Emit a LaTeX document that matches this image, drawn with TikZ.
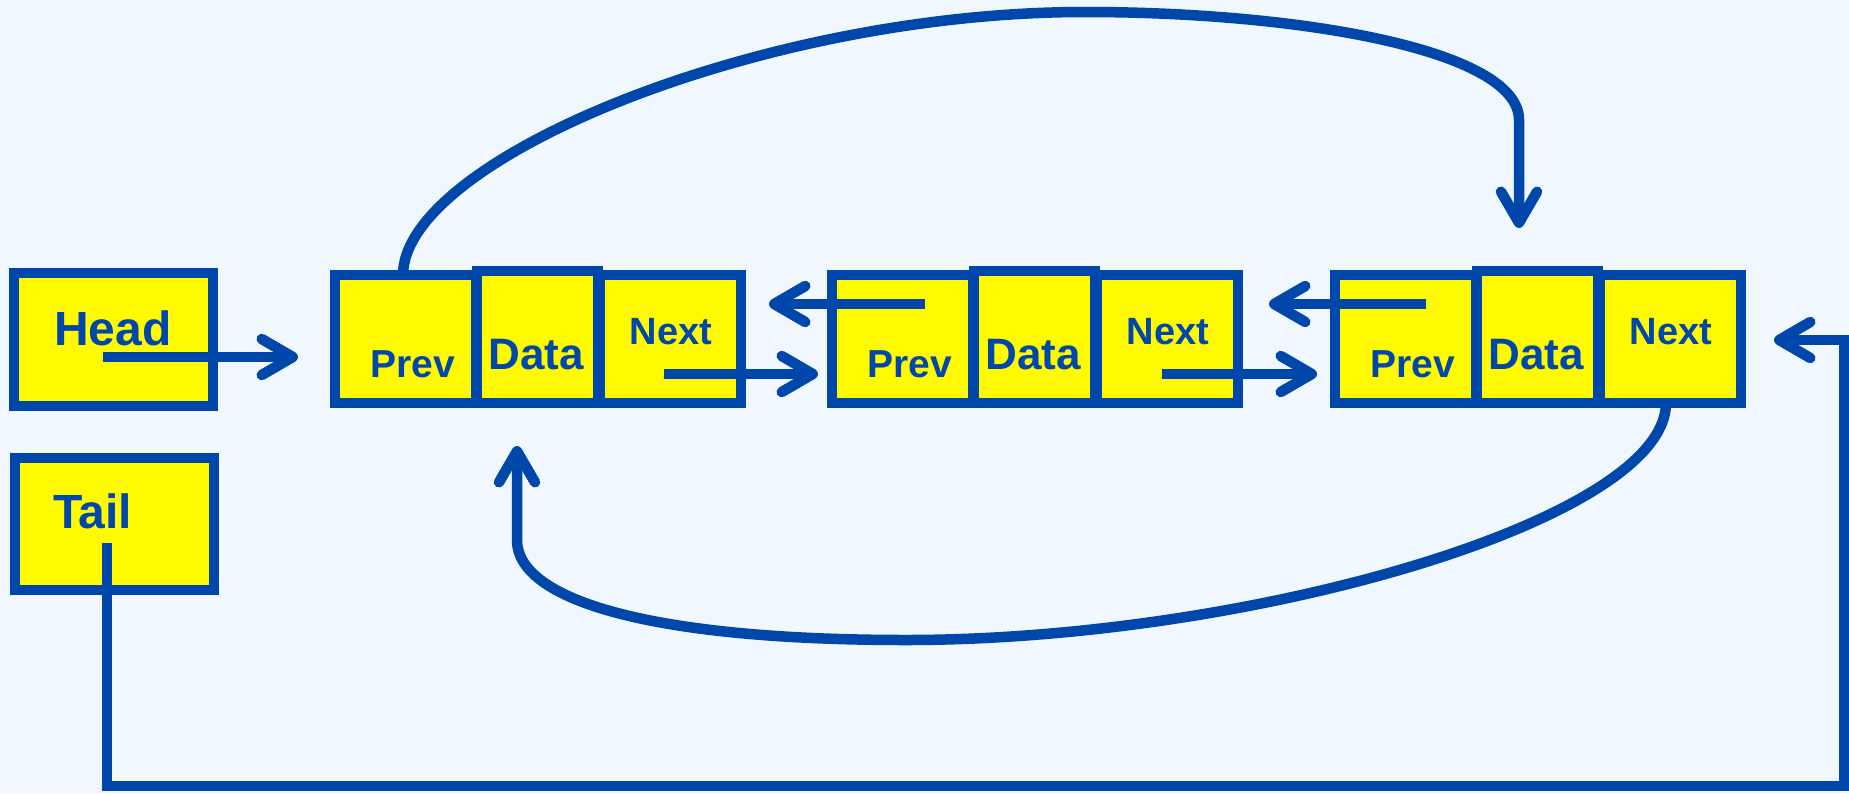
\documentclass[tikz,border=0pt]{standalone}
\usepackage{fontspec}
\setmainfont{Liberation Sans}
\usetikzlibrary{arrows.meta,calc}
\definecolor{bg}{RGB}{240,247,254}
\definecolor{cellfill}{RGB}{255,250,0}
\definecolor{ink}{RGB}{0,71,171}
\newcommand{\fsize}[1]{\fontsize{#1}{#1}\selectfont\bfseries}

\begin{document}
\begin{tikzpicture}[x=1pt,y=-1pt,
  cell/.style={draw=ink,fill=cellfill,line width=10pt,inner sep=0pt,outer sep=0pt},
  lbl/.style={text=ink,inner sep=0pt,outer sep=0pt},
  arr/.style={draw=ink,line width=10.5pt,-{Straight Barb[length=31pt,width=36pt,round]},
    preaction={draw=black,draw opacity=0.15,transform canvas={shift={(-2.5,3.5)}}}}
]
% background and page size
\fill[bg] (0,0) rectangle (1849,793);
\useasboundingbox (0,0) rectangle (1849,793);

% Head and Tail pointers
\node[cell,minimum width=199pt,minimum height=133pt] (head) at (113.5,339.5) {};
\node[cell,minimum width=199pt,minimum height=132pt] (tail) at (114.5,524) {};
\node[lbl,anchor=base west,font=\fsize{48pt}] (headtxt) at (54,345) {Head};
\node[lbl,anchor=base west,font=\fsize{48pt}] (tailtxt) at (53,528) {Tail};

% three list nodes: Prev | Data | Next
\foreach \k/\ox in {1/0,2/497,3/1000}{
  \node[cell,minimum width=141pt,minimum height=128pt] (p\k) at (405.5+\ox,339) {};
  \node[cell,minimum width=141pt,minimum height=128pt] (n\k) at (670.5+\ox,339) {};
  \node[cell,minimum width=121pt,minimum height=132pt] (d\k) at (537.5+\ox,337) {};
  \node[lbl,anchor=base,font=\fsize{39pt}] (tp\k) at (413+\ox,377) {Prev};
  \node[lbl,anchor=base,font=\fsize{44pt}] (td\k) at (536+\ox,369) {Data};
  \node[lbl,anchor=base,font=\fsize{38pt}] (tn\k) at (671+\ox,344) {Next};
}

% straight links
\draw[arr] ($(head.center)+(-10.5,17.5)$) -- ($(p1.west)+(-37,18)$);
\draw[arr] ($(n1.center)+(-6.5,35)$) -- ($(p2.west)+(-14,35)$);
\draw[arr] ($(p2.center)+(22.5,-35)$) -- ($(n1.east)+(28,-35)$);
\draw[arr] ($(n2.center)+(-5.5,35)$) -- ($(p3.west)+(-18,35)$);
\draw[arr] ($(p3.center)+(20.5,-35)$) -- ($(n2.east)+(31,-35)$);

% tail pointer loops round to the last node
\coordinate (corner) at (1844,786);
\draw[arr] ($(tail.center)+(-7.5,19)$) |- (corner) |- ($(n3.east)+(33,1)$);

% first Prev arcs over to the last Data
\draw[arr] ($(p1.north)+(-2.5,0)$) .. controls (403,160) and (760,12) .. (1085,12)
  .. controls (1300,12) and (1519,50) .. (1519,120) -- ($(d3.north)+(-18.5,-43)$);

% last Next arcs under to the first Data
\draw[arr] ($(n3.south)+(-4.5,0)$) .. controls (1666,520) and (1250,640) .. (906,640)
  .. controls (650,640) and (517,600) .. (517,540) -- ($(d1.south)+(-20.5,43)$);
\end{tikzpicture}
\end{document}
